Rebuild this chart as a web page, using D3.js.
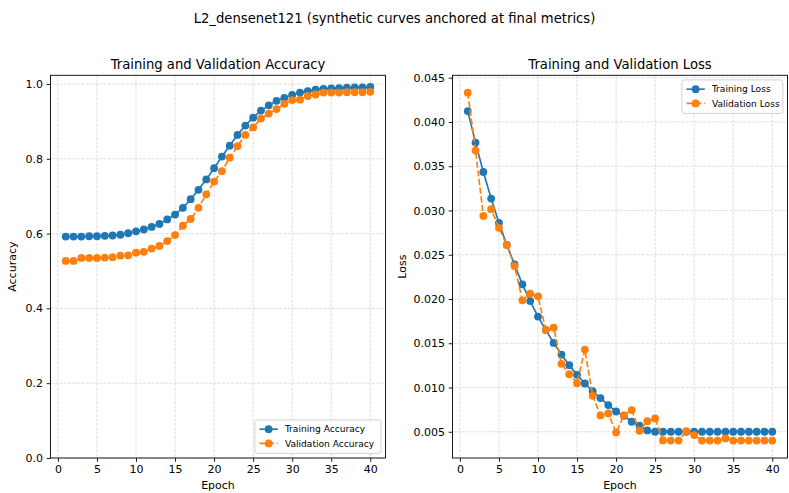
<!DOCTYPE html>
<html>
<head>
<meta charset="utf-8">
<script src="https://cdn.jsdelivr.net/npm/d3@7"></script>
<style>
  html, body { margin: 0; padding: 0; background: #fff; }
  svg { display: block; font-family: "DejaVu Sans", sans-serif; }
</style>
</head>
<body>
<svg id="fig" width="789" height="493"></svg>
<script>
// Per-epoch metrics for L2_densenet121
const epochs = d3.range(1, 41);

const trainAcc = [
  0.592, 0.592, 0.592, 0.593, 0.593, 0.594, 0.595, 0.597, 0.601, 0.606,
  0.611, 0.618, 0.626, 0.638, 0.651, 0.669, 0.692, 0.717, 0.745, 0.775,
  0.806, 0.835, 0.864, 0.889, 0.910, 0.929, 0.943, 0.955, 0.963, 0.971,
  0.977, 0.981, 0.985, 0.987, 0.988, 0.989, 0.990, 0.991, 0.991, 0.992
];
const valAcc = [
  0.527, 0.527, 0.535, 0.535, 0.535, 0.536, 0.537, 0.541, 0.542, 0.549,
  0.551, 0.560, 0.567, 0.580, 0.596, 0.621, 0.639, 0.669, 0.705, 0.739,
  0.767, 0.803, 0.834, 0.864, 0.884, 0.908, 0.921, 0.933, 0.947, 0.957,
  0.958, 0.968, 0.972, 0.977, 0.977, 0.977, 0.978, 0.978, 0.978, 0.979
];
const trainLoss = [
  0.04123, 0.03767, 0.03435, 0.03135, 0.02860, 0.02612, 0.02390, 0.02166, 0.01977, 0.01801,
  0.01650, 0.01504, 0.01372, 0.01252, 0.01143, 0.01045, 0.00959, 0.00880, 0.00801, 0.00729,
  0.00680, 0.00613, 0.00568, 0.00515, 0.00500, 0.00500, 0.00500, 0.00500, 0.00500, 0.00500,
  0.00500, 0.00500, 0.00500, 0.00500, 0.00500, 0.00500, 0.00500, 0.00500, 0.00500, 0.00500
];
const valLoss = [
  0.04331, 0.03677, 0.02939, 0.03015, 0.02804, 0.02609, 0.02372, 0.01985, 0.02060, 0.02030,
  0.01650, 0.01676, 0.01267, 0.01151, 0.01049, 0.01428, 0.00906, 0.00684, 0.00706, 0.00492,
  0.00688, 0.00745, 0.00511, 0.00620, 0.00650, 0.00402, 0.00400, 0.00400, 0.00508, 0.00462,
  0.00400, 0.00400, 0.00400, 0.00425, 0.00400, 0.00400, 0.00400, 0.00400, 0.00400, 0.00400
];

const xTicks = [0, 5, 10, 15, 20, 25, 30, 35, 40];
const accTicks = [0.0, 0.2, 0.4, 0.6, 0.8, 1.0];
const lossTicks = [0.005, 0.010, 0.015, 0.020, 0.025, 0.030, 0.035, 0.040, 0.045];

const C_TRAIN = "#1f77b4";
const C_VAL = "#ff7f0e";
const MARKER_R = 3.9;

const svg = d3.select("#fig");

svg.append("text")
  .attr("x", 394.5).attr("y", 23)
  .attr("text-anchor", "middle")
  .attr("font-size", 13.2)
  .attr("fill", "#000")
  .text("L2_densenet121 (synthetic curves anchored at final metrics)");

// matplotlib-like autoscale margin
function padded(vals, frac) {
  const [lo, hi] = d3.extent(vals);
  const m = (hi - lo) * frac;
  return [lo - m, hi + m];
}

function panel(opts) {
  const { left, top, width, height, title, ylabel, yDomain, yTicks, yFmt,
          series, legend } = opts;
  const g = svg.append("g").attr("transform", `translate(${left},${top})`);

  const x = d3.scaleLinear().domain(padded(epochs, 0.05)).range([0, width]);
  const y = d3.scaleLinear().domain(yDomain).range([height, 0]);

  // grid
  const grid = g.append("g");
  grid.selectAll("line.vx").data(xTicks).join("line")
    .attr("x1", d => x(d)).attr("x2", d => x(d))
    .attr("y1", 0).attr("y2", height)
    .attr("stroke", "#b0b0b0").attr("stroke-opacity", 0.55)
    .attr("stroke-width", 0.8).attr("stroke-dasharray", "3,1.4");
  grid.selectAll("line.hy").data(yTicks).join("line")
    .attr("x1", 0).attr("x2", width)
    .attr("y1", d => y(d)).attr("y2", d => y(d))
    .attr("stroke", "#b0b0b0").attr("stroke-opacity", 0.55)
    .attr("stroke-width", 0.8).attr("stroke-dasharray", "3,1.4");

  // axes
  const xAxis = g.append("g").attr("transform", `translate(0,${height})`)
    .call(d3.axisBottom(x).tickValues(xTicks).tickSize(3.8).tickPadding(3.6)
      .tickFormat(d3.format("d")));
  const yAxis = g.append("g")
    .call(d3.axisLeft(y).tickValues(yTicks).tickSize(3.8).tickPadding(3.6)
      .tickFormat(d3.format(yFmt)));
  [xAxis, yAxis].forEach(a => {
    a.select(".domain").remove();
    a.selectAll(".tick line").attr("stroke", "#000").attr("stroke-width", 0.9);
    a.selectAll(".tick text").attr("font-size", 11).attr("fill", "#000")
      .attr("font-family", "DejaVu Sans, sans-serif");
  });

  // series
  series.forEach(s => {
    const pts = epochs.map((e, i) => [e, s.values[i]]);
    const line = d3.line().x(d => x(d[0])).y(d => y(d[1]));
    g.append("path").datum(pts)
      .attr("d", line).attr("fill", "none")
      .attr("stroke", s.color).attr("stroke-width", 1.65)
      .attr("stroke-dasharray", s.dashed ? "6.1,2.6" : null);
    g.append("g").selectAll("circle").data(pts).join("circle")
      .attr("cx", d => x(d[0])).attr("cy", d => y(d[1]))
      .attr("r", MARKER_R).attr("fill", s.color);
  });

  // frame
  g.append("rect").attr("x", 0).attr("y", 0)
    .attr("width", width).attr("height", height)
    .attr("fill", "none").attr("stroke", "#000").attr("stroke-width", 0.9);

  // title
  g.append("text").attr("x", width / 2).attr("y", -6.8)
    .attr("text-anchor", "middle").attr("font-size", 13.2).attr("fill", "#000")
    .text(title);
  // axis labels
  g.append("text").attr("x", width / 2).attr("y", height + 31)
    .attr("text-anchor", "middle").attr("font-size", 11).attr("fill", "#000")
    .text("Epoch");
  g.append("text")
    .attr("transform", `translate(${opts.ylabelX},${height / 2}) rotate(-90)`)
    .attr("text-anchor", "middle").attr("font-size", 11).attr("fill", "#000")
    .text(ylabel);

  // legend
  const lw = legend.width, lh = 33.5;
  const lx = width - 4.6 - lw;
  const ly = legend.corner === "lr" ? height - 4.6 - lh : 4.6;
  const lg = g.append("g").attr("transform", `translate(${lx},${ly})`);
  lg.append("rect").attr("width", lw).attr("height", lh)
    .attr("rx", 2.5).attr("fill", "#fff").attr("fill-opacity", 0.8)
    .attr("stroke", "#cccccc").attr("stroke-width", 0.9);
  series.forEach((s, i) => {
    const cy = 9.3 + i * 14.2;
    lg.append("line").attr("x1", 4.6).attr("x2", 22.9)
      .attr("y1", cy).attr("y2", cy)
      .attr("stroke", s.color).attr("stroke-width", 1.65)
      .attr("stroke-dasharray", s.dashed ? "6.1,2.6" : null);
    lg.append("circle").attr("cx", 13.75).attr("cy", cy).attr("r", MARKER_R)
      .attr("fill", s.color);
    lg.append("text").attr("x", 30).attr("y", cy + 3.3)
      .attr("font-size", 9.1).attr("fill", "#000").text(s.label);
  });
}

panel({
  left: 50.5, top: 75.3, width: 335, height: 382.7,
  title: "Training and Validation Accuracy", ylabel: "Accuracy", ylabelX: -35,
  yDomain: [0, 1.0233], yTicks: accTicks, yFmt: ".1f",
  series: [
    { label: "Training Accuracy", values: trainAcc, color: C_TRAIN, dashed: false },
    { label: "Validation Accuracy", values: valAcc, color: C_VAL, dashed: true }
  ],
  legend: { corner: "lr", width: 126 }
});

panel({
  left: 452.5, top: 75.3, width: 335, height: 382.7,
  title: "Training and Validation Loss", ylabel: "Loss", ylabelX: -47,
  yDomain: padded(trainLoss.concat(valLoss), 0.05), yTicks: lossTicks, yFmt: ".3f",
  series: [
    { label: "Training Loss", values: trainLoss, color: C_TRAIN, dashed: false },
    { label: "Validation Loss", values: valLoss, color: C_VAL, dashed: true }
  ],
  legend: { corner: "ur", width: 101 }
});
</script>
</body>
</html>
